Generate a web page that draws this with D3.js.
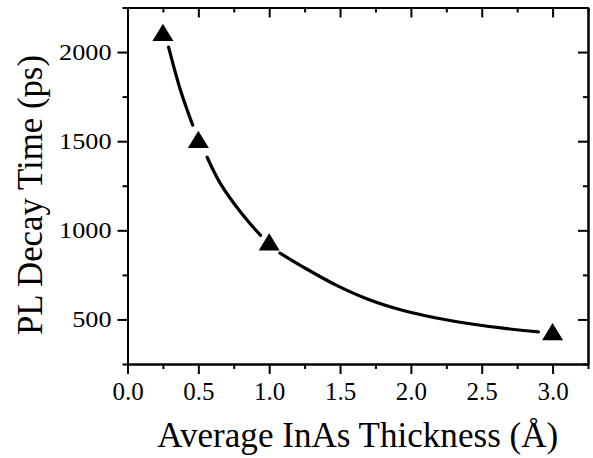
<!DOCTYPE html>
<html>
<head>
<meta charset="utf-8">
<script src="https://cdn.jsdelivr.net/npm/d3@7"></script>
<style>
  html, body { margin: 0; padding: 0; background: #fff; }
  svg { display: block; }
  text { font-family: "Liberation Serif", "Times New Roman", serif; fill: #000; }
</style>
</head>
<body>
<svg id="chart" width="593" height="458"></svg>
<script>
// Measured data points (triangles)
const thickness = [0.25, 0.5, 1.0, 3.0];
const decayTime = [2110, 1510, 935, 432];

// Fitted curve (drawn in three pieces with gaps at markers)
const fitX =   [0.29, 0.374, 0.46, 0.562, 0.656, 0.806, 0.939, 1.076, 1.24, 1.476, 1.711, 1.946, 2.18, 2.417, 2.65, 2.9];
const fitY =   [2028, 1786, 1590, 1410, 1262, 1094, 972, 872, 794, 691, 609, 550, 508, 476, 451, 430];
const fitSeg = [0, 0, 0, 1, 1, 1, 1, 2, 2, 2, 2, 2, 2, 2, 2, 2];

// Tick values
const xMajor = [0.0, 0.5, 1.0, 1.5, 2.0, 2.5, 3.0];
const xMinor = [0.25, 0.75, 1.25, 1.75, 2.25, 2.75, 3.25];
const yMajor = [500, 1000, 1500, 2000];
const yMinor = [250, 750, 1250, 1750, 2250];

const xTitle = "Average InAs Thickness (Å)";
const yTitle = "PL Decay Time (ps)";

const FONT = '"Liberation Serif", "Times New Roman", serif';
const L = 127.5, R = 588, T = 7.5, B = 364;
const svg = d3.select("#chart");
const x = d3.scaleLinear().domain([0, 3.25]).range([L, R]);
const y = d3.scaleLinear().domain([250, 2250]).range([B, T]);

function styleAxis(g) {
  g.attr("font-family", FONT);
  g.selectAll("path.domain").attr("stroke", "#000").attr("stroke-width", 2);
  g.selectAll(".tick line").attr("stroke", "#000").attr("stroke-width", 2);
  g.selectAll("text").attr("fill", "#000").attr("font-family", FONT);
}

// Bottom axis
const gb = svg.append("g").attr("transform", `translate(0,${B})`)
  .call(d3.axisBottom(x).tickValues(xMajor).tickSize(10).tickSizeOuter(0).tickPadding(8).tickFormat(d3.format(".1f")));
styleAxis(gb);
gb.selectAll("text").attr("font-size", 25);
const gbm = svg.append("g").attr("transform", `translate(0,${B})`)
  .call(d3.axisBottom(x).tickValues(xMinor).tickSize(5).tickSizeOuter(0).tickFormat(""));
styleAxis(gbm);

// Top axis (inward ticks)
const gt = svg.append("g").attr("transform", `translate(0,${T})`)
  .call(d3.axisTop(x).tickValues(xMajor).tickSize(-10).tickSizeOuter(0).tickFormat(""));
styleAxis(gt);
const gtm = svg.append("g").attr("transform", `translate(0,${T})`)
  .call(d3.axisTop(x).tickValues(xMinor).tickSize(-5).tickSizeOuter(0).tickFormat(""));
styleAxis(gtm);

// Left axis
const gl = svg.append("g").attr("transform", `translate(${L},0)`)
  .call(d3.axisLeft(y).tickValues(yMajor).tickSize(10).tickSizeOuter(0).tickPadding(6).tickFormat(d3.format("d")));
styleAxis(gl);
gl.selectAll("text").attr("font-size", 23).each(function() {
  const w = this.getComputedTextLength();
  d3.select(this).attr("textLength", w * 1.14).attr("lengthAdjust", "spacingAndGlyphs");
});
const glm = svg.append("g").attr("transform", `translate(${L},0)`)
  .call(d3.axisLeft(y).tickValues(yMinor).tickSize(5).tickSizeOuter(0).tickFormat(""));
styleAxis(glm);

// Right axis (inward ticks)
const gr = svg.append("g").attr("transform", `translate(${R},0)`)
  .call(d3.axisRight(y).tickValues(yMajor).tickSize(-10).tickSizeOuter(0).tickFormat(""));
styleAxis(gr);
const grm = svg.append("g").attr("transform", `translate(${R},0)`)
  .call(d3.axisRight(y).tickValues(yMinor).tickSize(-5).tickSizeOuter(0).tickFormat(""));
styleAxis(grm);

// Fit curve segments
const fitPts = fitX.map((v, i) => ({ x: v, y: fitY[i], s: fitSeg[i] }));
const segs = d3.groups(fitPts, d => d.s).map(d => d[1]);
const line = d3.line().x(d => x(d.x)).y(d => y(d.y)).curve(d3.curveCatmullRom.alpha(0.5));
svg.append("g").selectAll("path").data(segs).join("path")
  .attr("d", line)
  .attr("fill", "none")
  .attr("stroke", "#000")
  .attr("stroke-width", 3.2)
  .attr("stroke-linecap", "round");

// Triangle markers (bbox-centred, 21 wide x 17 tall)
const triangleType = {
  draw(ctx) {
    const hw = 10.5, hh = 8.6;
    ctx.moveTo(0, -hh);
    ctx.lineTo(hw, hh);
    ctx.lineTo(-hw, hh);
    ctx.closePath();
  }
};
const sym = d3.symbol().type(triangleType);
svg.append("g").selectAll("path").data(thickness.map((v, i) => ({ x: v, y: decayTime[i] }))).join("path")
  .attr("d", sym)
  .attr("transform", d => `translate(${x(d.x)},${y(d.y)})`)
  .attr("fill", "#000");

// Axis titles
svg.append("text")
  .attr("x", (L + R) / 2).attr("y", 447)
  .attr("text-anchor", "middle")
  .attr("font-family", FONT)
  .attr("font-size", 35)
  .attr("textLength", 401).attr("lengthAdjust", "spacingAndGlyphs")
  .text(xTitle);

svg.append("text")
  .attr("transform", "translate(42,195) rotate(-90)")
  .attr("text-anchor", "middle")
  .attr("font-family", FONT)
  .attr("font-size", 35)
  .attr("textLength", 280).attr("lengthAdjust", "spacingAndGlyphs")
  .text(yTitle);
</script>
</body>
</html>
